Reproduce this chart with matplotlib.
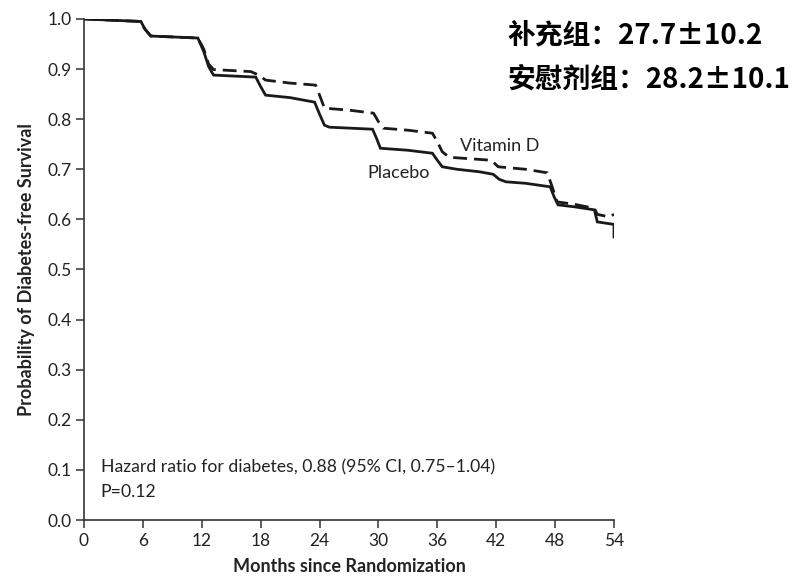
import matplotlib
matplotlib.use('Agg')
import matplotlib.pyplot as plt

# Kaplan-Meier curves, values
vitd_months = [0, 5.8, 6.2, 6.8, 11.6, 12.2, 12.7, 13.2, 17.0, 17.8, 18.5, 21.0,
               23.6, 24.0, 24.5, 27.0, 29.5, 30.0, 30.5, 33.0, 35.5, 36.0, 36.5,
               37.2, 41.5, 42.2, 45.0, 47.2, 47.7, 48.2, 50.0, 52.0, 52.3, 53.5, 54.0]
vitd_surv = [1.0, 0.995, 0.98, 0.966, 0.962, 0.94, 0.91, 0.899, 0.895, 0.888, 0.878, 0.872,
             0.868, 0.848, 0.822, 0.818, 0.812, 0.795, 0.782, 0.778, 0.772, 0.755, 0.735,
             0.724, 0.718, 0.705, 0.700, 0.693, 0.665, 0.635, 0.630, 0.622, 0.610, 0.605, 0.610]

plac_months = [0, 5.8, 6.2, 6.8, 11.6, 12.2, 12.7, 13.2, 17.5, 18.0, 18.5, 21.0,
               23.5, 24.0, 24.5, 25.0, 29.4, 29.8, 30.2, 33.0, 35.5, 36.0, 36.5,
               38.0, 40.3, 41.7, 42.3, 43.0, 45.0, 47.5, 47.9, 48.3, 50.0, 52.0,
               52.3, 54.0, 54.0]
plac_surv = [1.0, 0.995, 0.98, 0.966, 0.962, 0.935, 0.905, 0.888, 0.884, 0.865, 0.848, 0.843,
             0.834, 0.81, 0.788, 0.784, 0.780, 0.762, 0.742, 0.738, 0.732, 0.718, 0.705,
             0.700, 0.695, 0.690, 0.680, 0.675, 0.672, 0.665, 0.645, 0.629, 0.625, 0.619,
             0.595, 0.590, 0.565]

x_ticks = [0, 6, 12, 18, 24, 30, 36, 42, 48, 54]
y_ticks = [0.0, 0.1, 0.2, 0.3, 0.4, 0.5, 0.6, 0.7, 0.8, 0.9, 1.0]

group_lines = ['补充组：27.7±10.2', '安慰剂组：28.2±10.1']

plt.rcParams['font.family'] = ['Lato', 'DejaVu Sans']

fig = plt.figure(figsize=(8.06, 5.82), dpi=100)
ax = fig.add_axes([0.1042, 0.1065, 0.6576, 0.8609])

ax.plot(plac_months, plac_surv, color='#1a1a1a', lw=2.0, solid_joinstyle='miter')
ax.plot(vitd_months, vitd_surv, color='#1a1a1a', lw=2.0, dashes=[5, 2.5])

ax.set_xlim(0, 54)
ax.set_ylim(0, 1.0)
ax.set_xticks(x_ticks)
ax.set_yticks(y_ticks)
ax.set_yticklabels(['%.1f' % v for v in y_ticks])
ax.tick_params(direction='out', length=6, width=1.1, labelsize=12.5, color='#333333',
               labelcolor='#222222', pad=3)
for side in ['top', 'right']:
    ax.spines[side].set_visible(False)
for side in ['left', 'bottom']:
    ax.spines[side].set_linewidth(1.2)
    ax.spines[side].set_color('#333333')

ax.set_xlabel('Months since Randomization', fontsize=13, fontweight='bold',
              color='#222222', labelpad=7)
ax.set_ylabel('Probability of Diabetes-free Survival', fontsize=13, fontweight='bold',
              color='#222222', labelpad=9)

ax.text(38.3, 0.746, 'Vitamin D', fontsize=13, color='#222222', va='center')
ax.text(28.9, 0.693, 'Placebo', fontsize=13, color='#222222', va='center')
ax.text(1.7, 0.106, 'Hazard ratio for diabetes, 0.88 (95% CI, 0.75\u20131.04)',
        fontsize=12.7, color='#222222', va='center')
ax.text(1.7, 0.056, 'P=0.12', fontsize=12.7, color='#222222', va='center')

fig.text(507 / 806, 1 - 35 / 582, group_lines[0], fontsize=20, fontweight='bold',
         family=['Noto Sans CJK SC', 'DejaVu Sans'], va='center', ha='left')
fig.text(507 / 806, 1 - 80 / 582, group_lines[1], fontsize=20, fontweight='bold',
         family=['Noto Sans CJK SC', 'DejaVu Sans'], va='center', ha='left')

fig.savefig('out.png', dpi=100)
